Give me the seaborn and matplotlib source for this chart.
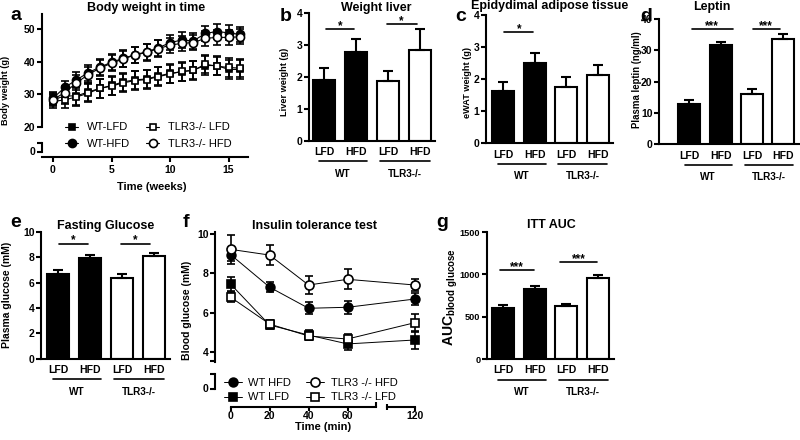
import numpy as np
import pandas as pd
import matplotlib
matplotlib.use('Agg')
import matplotlib.pyplot as plt
import seaborn as sns
from matplotlib.transforms import blended_transform_factory

# ---------------- datos ----------------
# a: peso corporal (g) por semana
weeks = list(range(17))
bw_wt_lfd = [28.3, 29.5, 29.5, 30.7, 31.8, 32.7, 33.8, 34.4, 34.7, 35.6, 36.4, 36.9, 37.4, 38.8, 38.8, 37.6, 37.6]
bw_wt_hfd = [28.8, 32.1, 34.4, 36.6, 38.3, 39.8, 41.0, 42.1, 43.0, 44.2, 45.8, 46.6, 46.3, 48.6, 49.2, 48.8, 48.3]
bw_tlr_lfd = [27.8, 28.3, 29.2, 30.3, 31.8, 32.5, 33.5, 34.2, 34.5, 35.4, 36.2, 37.0, 37.3, 39.2, 38.6, 38.2, 38.0]
bw_tlr_hfd = [28.4, 30.5, 33.5, 36.0, 38.0, 39.5, 40.8, 42.0, 42.8, 44.0, 45.0, 45.6, 45.8, 47.1, 47.4, 47.4, 47.6]
bw_sem_lfd = [2.0, 2.5, 2.8, 2.8, 2.8, 2.8, 2.8, 2.8, 2.8, 2.8, 2.8, 2.8, 2.8, 2.8, 2.8, 2.8, 2.8]
bw_sem_hfd = [1.8, 2.0, 2.3, 2.5, 2.5, 2.5, 2.5, 2.5, 2.5, 2.5, 2.3, 2.3, 2.3, 2.3, 2.3, 2.3, 2.3]

# barras: mismas 4 condiciones en b, c, d, e, g
bar_groups = ['WT LFD', 'WT HFD', 'TLR3 LFD', 'TLR3 HFD']
bar_diets = ['LFD', 'HFD', 'LFD', 'HFD']
genotypes = ['WT', 'TLR3-/-']

liver_mean = [1.90, 2.76, 1.87, 2.83]
liver_sem = [0.36, 0.42, 0.30, 0.65]
ewat_mean = [1.64, 2.51, 1.77, 2.12]
ewat_sem = [0.26, 0.32, 0.29, 0.31]
leptin_mean = [12.8, 31.6, 16.1, 33.6]
leptin_sem = [1.5, 1.1, 1.5, 1.5]
glucose_mean = [6.70, 7.98, 6.40, 8.08]
glucose_sem = [0.32, 0.22, 0.30, 0.27]
auc_mean = [598, 822, 625, 959]
auc_sem = [35, 35, 30, 38]

# f: test de tolerancia a insulina
itt_time = [0, 20, 40, 60, 120]
itt_wt_hfd = [8.95, 7.30, 6.23, 6.28, 6.70]
itt_wt_hfd_sem = [0.30, 0.25, 0.30, 0.32, 0.30]
itt_wt_lfd = [7.45, 5.38, 4.87, 4.42, 4.62]
itt_wt_lfd_sem = [0.35, 0.20, 0.25, 0.30, 0.45]
itt_tlr_hfd = [9.22, 8.93, 7.41, 7.70, 7.41]
itt_tlr_hfd_sem = [0.75, 0.50, 0.48, 0.50, 0.30]
itt_tlr_lfd = [6.79, 5.43, 4.82, 4.67, 5.50]
itt_tlr_lfd_sem = [0.25, 0.20, 0.20, 0.25, 0.45]

# significancia: (x inicio, x fin, y, texto)
sig_liver = [(0.06, 0.94, 3.48, '*'), (1.96, 2.90, 3.65, '*')]
sig_ewat = [(0.04, 0.96, 3.47, '*')]
sig_leptin = [(0.07, 1.38, 36.9, '***'), (2.02, 2.89, 36.9, '***')]
sig_glucose = [(0.03, 0.94, 9.09, '*'), (1.97, 2.88, 9.09, '*')]
sig_auc = [(-0.09, 0.98, 1050, '***'), (1.80, 2.97, 1148, '***')]
group_spans = [(-0.15, 1.35), (1.76, 3.30)]

# ---------------- estilo ----------------
sns.set_theme(style='ticks', rc={'axes.edgecolor': 'black', 'xtick.color': 'black',
                                 'ytick.color': 'black', 'text.color': 'black',
                                 'axes.labelcolor': 'black'})
plt.rcParams['font.family'] = ['Liberation Sans', 'DejaVu Sans']
plt.rcParams['font.weight'] = 'bold'
plt.rcParams['axes.labelweight'] = 'bold'
plt.rcParams['axes.linewidth'] = 1.5
plt.rcParams['mathtext.fontset'] = 'custom'
plt.rcParams['mathtext.rm'] = 'Liberation Sans:bold'
plt.rcParams['mathtext.bf'] = 'Liberation Sans:bold'
plt.rcParams['mathtext.it'] = 'Liberation Sans:bold'

W, H = 800, 440
fig = plt.figure(figsize=(8, 4.4), dpi=100)


def add_ax(box):
    l, t, r, b = box
    ax = fig.add_axes([l / W, 1 - b / H, (r - l) / W, (b - t) / H])
    ax.patch.set_alpha(0)
    return ax


def xfrac(box, px):
    return (px - box[0]) / (box[2] - box[0])


def yfrac(box, py):
    return (box[3] - py) / (box[3] - box[1])


def ftext(x, y, s, **kw):
    fig.text(x / W, 1 - y / H, s, **kw)


def style_ticks(ax, size=7.5):
    ax.tick_params(axis='both', labelsize=size, length=3.6, width=1.5, pad=1)
    ax.tick_params(which='minor', length=3.6, width=1.5)


def bar_panel(box, xlim, means, sems, ymax, step, sigs, ylabel, ylab_x, ylab_y, ylab_size,
              tick_size=7.5):
    ax = add_ax(box)
    df = pd.DataFrame({'grupo': bar_groups, 'valor': means})
    sns.barplot(data=df, x='grupo', y='valor', hue='grupo',
                palette=dict(zip(bar_groups, ['black', 'black', 'white', 'white'])),
                width=0.7, edgecolor='black', linewidth=1.5, errorbar=None,
                legend=False, ax=ax)
    ax.errorbar(np.arange(4), means, yerr=[np.zeros(4), sems], fmt='none', ecolor='black',
                elinewidth=1.5, capsize=3.5, capthick=1.5, zorder=3)
    ax.set_xlim(*xlim)
    ax.set_ylim(0, ymax)
    ax.set_yticks(np.arange(0, ymax + step / 2, step))
    ax.set_xticks(range(4))
    ax.set_xticklabels(bar_diets)
    style_ticks(ax, tick_size)
    ax.tick_params(axis='x', length=0, pad=4.5, labelsize=7.5)
    ax.set_xlabel('')
    ax.set_ylabel(ylabel, fontsize=ylab_size)
    ax.yaxis.label.set_va('center')
    ax.yaxis.set_label_coords(xfrac(box, ylab_x), yfrac(box, ylab_y))
    sns.despine(ax=ax)
    for x1, x2, y, txt in sigs:
        ax.plot([x1, x2], [y, y], color='black', lw=1.2, clip_on=False)
        ax.text((x1 + x2) / 2, y, txt, ha='center', va='baseline', fontsize=8.5)
    trans = blended_transform_factory(ax.transData, ax.transAxes)
    y_line = yfrac(box, box[3] + 20.5)
    y_text = yfrac(box, box[3] + 33)
    for (x1, x2), name in zip(group_spans, genotypes):
        ax.plot([x1, x2], [y_line, y_line], color='black', lw=1.2, transform=trans, clip_on=False)
        ax.text((x1 + x2) / 2, y_text, name, transform=trans, ha='center', va='center', fontsize=7.2)
    return ax


def line_series(ax, x, y, err, marker, ms, face, label, lw=0.8):
    ax.errorbar(x, y, yerr=err, fmt='none', ecolor='black', elinewidth=1.2,
                capsize=3, capthick=1.2, zorder=2)
    sns.lineplot(x=x, y=y, ax=ax, color='black', marker=marker, markersize=ms,
                 markerfacecolor=face, markeredgecolor='black', markeredgewidth=1.2,
                 linewidth=lw, errorbar=None, legend=False, label=label, zorder=3)
    return ax.lines[-1]


def zero_stub(ax, box, top, zero_py):
    # tramo corto del eje y con el 0 (eje cortado)
    ax.set_yticks([0])
    ax.set_yticks([top], minor=True)
    style_ticks(ax)
    ax.tick_params(axis='y', labelleft=False)
    ax.spines['left'].set_bounds(0, top)
    ftext(box[0] - 6.4, zero_py, '0', ha='right', va='center', fontsize=7.5, zorder=20)


# ---------------- a: peso corporal ----------------
box_a = (42, 14, 248, 127)
box_a0 = (42, 140, 248, 157)
a_xlim = (-11 / 11.7, 195 / 11.7)
ax_a = add_ax(box_a)
handles_a = [
    line_series(ax_a, weeks, bw_wt_lfd, bw_sem_lfd, 's', 5, 'black', 'WT-LFD'),
    line_series(ax_a, weeks, bw_wt_hfd, bw_sem_hfd, 'o', 5.8, 'black', 'WT-HFD'),
    line_series(ax_a, weeks, bw_tlr_lfd, bw_sem_lfd, 's', 5, 'white', 'TLR3-/- LFD'),
    line_series(ax_a, weeks, bw_tlr_hfd, bw_sem_hfd, 'o', 5.8, 'white', 'TLR3-/- HFD'),
]
ax_a.set_xlim(*a_xlim)
ax_a.set_ylim(20, 20 + 113 / 3.27)
ax_a.set_yticks([20, 30, 40, 50])
style_ticks(ax_a)
ax_a.tick_params(axis='x', bottom=False, labelbottom=False)
sns.despine(ax=ax_a, bottom=True)
ax_a.set_ylabel('Body weight (g)', fontsize=6.6)
ax_a.yaxis.label.set_va('center')
ax_a.yaxis.set_label_coords(xfrac(box_a, 6), yfrac(box_a, 90))
ax_a.legend(handles=handles_a, ncol=2, loc='upper left', bbox_to_anchor=(65 / W, 1 - 122.5 / H),
            bbox_transform=fig.transFigure, frameon=False, prop={'size': 8, 'weight': 'normal'},
            handlelength=1.2, handletextpad=0.8, columnspacing=1.4, labelspacing=0.6,
            borderpad=0, borderaxespad=0)

ax_a0 = add_ax(box_a0)
sns.despine(ax=ax_a0)
ax_a0.set_xlim(*a_xlim)
ax_a0.set_ylim(-5 / 3.27, 12 / 3.27)
ax_a0.set_xticks([0, 5, 10, 15])
zero_stub(ax_a0, box_a0, 2.75, 152)
ax_a0.tick_params(axis='x', pad=2)
ax_a0.set_xlabel('Time (weeks)', fontsize=8)
ax_a0.xaxis.label.set_va('center')
ax_a0.xaxis.set_label_coords(xfrac(box_a0, 152), yfrac(box_a0, 187))

# ---------------- b, c, d, e, g: barras ----------------
bar_panel((309, 12.7, 435, 140.7), (-0.47, 3.47), liver_mean, liver_sem, 4, 1, sig_liver,
          'Liver weight (g)', 284.5, 82, 6.6)
bar_panel((486, 15, 613, 143.3), (-0.54, 3.49), ewat_mean, ewat_sem, 4, 1, sig_ewat,
          'eWAT weight (g)', 467, 82, 6.6)
bar_panel((659, 19, 799, 144.3), (-0.97, 3.5), leptin_mean, leptin_sem, 40, 10, sig_leptin,
          'Plasma leptin (ng/ml)', 636.5, 80, 6.9)
bar_panel((41, 232, 170, 358.7), (-0.53, 3.5), glucose_mean, glucose_sem, 10, 2, sig_glucose,
          'Plasma glucose (mM)', 7.5, 295, 7.5)
bar_panel((486.7, 232, 614, 359), (-0.51, 3.5), auc_mean, auc_sem, 1500, 500, sig_auc,
          r'AUC$_{\mathrm{blood\ glucose}}$', 451, 297, 10, tick_size=6.6)

# ---------------- f: ITT con eje x cortado ----------------
k_cut = (94.66 - 75) / 45


def fwd(x):
    x = np.asarray(x, dtype=float)
    return np.where(x <= 75, x, 75 + (x - 75) * k_cut)


def inv(x):
    x = np.asarray(x, dtype=float)
    return np.where(x <= 75, x, 75 + (x - 75) / k_cut)


box_f = (215, 232, 420, 361.7)
ax_f = add_ax(box_f)
ax_f.set_xscale('function', functions=(fwd, inv))
handles_f = [
    line_series(ax_f, itt_time, itt_wt_hfd, itt_wt_hfd_sem, 'o', 6.3, 'black', 'WT HFD', 0.7),
    line_series(ax_f, itt_time, itt_wt_lfd, itt_wt_lfd_sem, 's', 5.3, 'black', 'WT LFD', 0.7),
    line_series(ax_f, itt_time, itt_tlr_hfd, itt_tlr_hfd_sem, 'o', 6.5, 'white', 'TLR3 -/- HFD', 0.7),
    line_series(ax_f, itt_time, itt_tlr_lfd, itt_tlr_lfd_sem, 's', 5.3, 'white', 'TLR3 -/- LFD', 0.7),
]
ax_f.axvspan(71.5, 90.6, color='white', zorder=2.5, lw=0)
ax_f.set_xlim(-8.06, 125.9)
ax_f.set_ylim(10 - 127.7 / 19.7, 10 + 2 / 19.7)
ax_f.set_yticks([4, 6, 8, 10])
ax_f.set_yticks([3.56], minor=True)
style_ticks(ax_f)
ax_f.tick_params(axis='x', which='both', bottom=False, labelbottom=False)
sns.despine(ax=ax_f, bottom=True)
ax_f.set_ylabel('Blood glucose (mM)', fontsize=7.5)
ax_f.yaxis.label.set_va('center')
ax_f.yaxis.set_label_coords(xfrac(box_f, 187), yfrac(box_f, 310))
ax_f.legend(handles=handles_f, ncol=2, loc='upper left', bbox_to_anchor=(224 / W, 1 - 377.5 / H),
            bbox_transform=fig.transFigure, frameon=False, prop={'size': 8, 'weight': 'normal'},
            handlelength=1.6, handletextpad=0.6, columnspacing=1.35, labelspacing=0.45,
            borderpad=0, borderaxespad=0)

box_f0 = (215, 372, 420, 392)
ax_f0 = add_ax(box_f0)
sns.despine(ax=ax_f0, bottom=True)
ax_f0.set_xlim(-8.06, 125.9)
ax_f0.set_ylim(-2.7 / 19.7, 17.3 / 19.7)
zero_stub(ax_f0, box_f0, 0.78, 389.3)
ax_f0.tick_params(axis='x', which='both', bottom=False, labelbottom=False)

box_fx1 = (215, 398, 381, 406.7)
ax_fx1 = add_ax(box_fx1)
ax_fx1.set_xlim(-15.7 / 1.947, 150.3 / 1.947)
ax_fx1.set_xticks([0, 20, 40, 60])
ax_fx1.set_xticks([74.5], minor=True)
box_fx2 = (383, 398, 422, 406.7)
ax_fx2 = add_ax(box_fx2)
ax_fx2.set_xlim(120 - 32 / 1.947, 120 + 7 / 1.947)
ax_fx2.set_xticks([120])
ax_fx2.set_xticks([105.5], minor=True)
for axx in (ax_fx1, ax_fx2):
    style_ticks(axx)
    axx.tick_params(axis='x', length=3, pad=0.3)
    axx.tick_params(axis='y', which='both', left=False, labelleft=False)
    sns.despine(ax=axx, left=True)
ax_fx1.spines['bottom'].set_bounds(0, 74.5)
ax_fx2.spines['bottom'].set_bounds(105.5, 120)
ax_fx1.tick_params(axis='x', which='minor', direction='in', length=3.5)
ax_fx2.tick_params(axis='x', which='minor', direction='inout', length=5)
ftext(323, 427, 'Time (min)', ha='center', va='center', fontsize=8)

# ---------------- titulos y letras ----------------
titles = [(146, 11, 'Body weight in time'), (376.5, 10.7, 'Weight liver'),
          (550, 9.5, 'Epidydimal adipose tissue'), (712, 10, 'Leptin'),
          (106, 228.7, 'Fasting Glucose'), (314, 228.7, 'Insulin tolerance test'),
          (551, 228.3, 'ITT AUC')]
for x, y, s in titles:
    ftext(x, y, s, ha='center', va='baseline', fontsize=9)

letters = [(16, 20, 'a'), (286, 21, 'b'), (461, 21, 'c'), (646, 21, 'd'),
           (16, 227, 'e'), (186, 227, 'f'), (442, 227, 'g')]
for x, y, s in letters:
    ftext(x, y, s, ha='center', va='baseline', fontsize=14)

fig.savefig('out.png', dpi=100)
